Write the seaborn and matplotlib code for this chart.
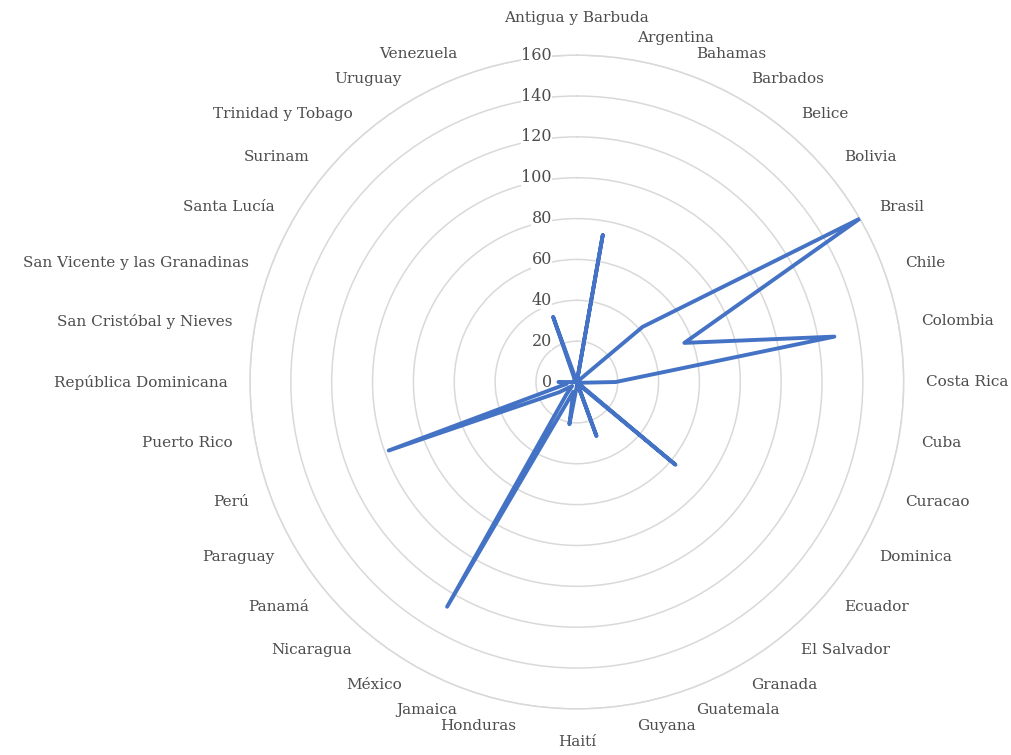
import numpy as np
import pandas as pd
import matplotlib
matplotlib.use("Agg")
import matplotlib.pyplot as plt
import seaborn as sns

# categories (the last one is an empty slot, as in the source sheet)
paises = [
    "Antigua y Barbuda", "Argentina", "Bahamas", "Barbados", "Belice", "Bolivia",
    "Brasil", "Chile", "Colombia", "Costa Rica", "Cuba", "Curacao", "Dominica",
    "Ecuador", "El Salvador", "Granada", "Guatemala", "Guyana", "Haití",
    "Honduras", "Jamaica", "México", "Nicaragua", "Panamá", "Paraguay", "Perú",
    "Puerto Rico", "República Dominicana", "San Cristóbal y Nieves",
    "San Vicente y las Granadinas", "Santa Lucía", "Surinam",
    "Trinidad y Tobago", "Uruguay", "Venezuela", "",
]
valores = [
    0, 73, 0, 0, 0, 42,
    160, 56, 128, 19, 2, 0, 0,
    63, 2, 0, 28, 0, 2,
    21, 5, 127, 8, 3, 10, 98,
    5, 9, 0,
    0, 0, 0,
    2, 3, 34, 0,
]
niveles = [0, 20, 40, 60, 80, 100, 120, 140, 160]

AZUL = "#4472C4"
GRIS_TXT = "#4d4d4d"
GRIS_RED = "#d9d9d9"

sns.set_style("white")
plt.rcParams["font.family"] = ["DejaVu Serif", "DejaVu Sans"]

n = len(paises)
angulos = np.linspace(0, 2 * np.pi, n, endpoint=False)

# close the polygon
df = pd.DataFrame({
    "theta": np.append(angulos, 2 * np.pi),
    "valor": valores + [valores[0]],
})

fig = plt.figure(figsize=(10.12, 7.55), dpi=100)
ax = fig.add_axes([0.247, 0.061, 0.646, 0.866], projection="polar")
ax.set_theta_zero_location("N")
ax.set_theta_direction(-1)

sns.lineplot(data=df, x="theta", y="valor", sort=False, estimator=None,
             color=AZUL, linewidth=2.8, ax=ax, zorder=5)

ax.set_ylim(0, 160)
ax.set_xticks([])
ax.set_yticks(niveles)
ax.set_yticklabels([])
ax.xaxis.grid(False)
ax.yaxis.grid(True, color=GRIS_RED, linewidth=1.1)
ax.spines["polar"].set_color(GRIS_RED)
ax.spines["polar"].set_linewidth(1.1)
ax.set_xlabel("")
ax.set_ylabel("")

# radial labels on the vertical axis
for v in niveles:
    ax.annotate(str(v), xy=(0, v), xytext=(-25, 0), textcoords="offset pixels",
                ha="right", va="center", fontsize=11.5, color=GRIS_TXT, zorder=3,
                bbox=dict(facecolor="white", edgecolor="none", pad=0.5))

# category labels outside the rings
for i, nombre in enumerate(paises):
    grados = i * 360 / n
    if np.isclose(grados, 0):
        ha, r = "center", 178
    elif np.isclose(grados, 180):
        ha, r = "center", 176
    elif grados < 180:
        ha, r = "left", 171
    else:
        ha, r = "right", 171
    ax.text(angulos[i], r, nombre, ha=ha, va="center", fontsize=11,
            color=GRIS_TXT, clip_on=False)

fig.savefig("out.png", dpi=100, facecolor="white")
